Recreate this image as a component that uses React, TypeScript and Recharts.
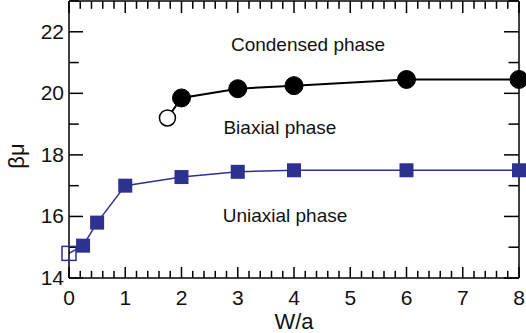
import React from "react";
import {
  LineChart,
  Line,
  XAxis,
  YAxis,
  ReferenceDot,
} from "recharts";

// condensed / biaxial boundary (first point is the open circle)
const biaxialW = [1.75, 2, 3, 4, 6, 8];
const biaxialMu = [19.2, 19.85, 20.15, 20.25, 20.45, 20.45];

// biaxial / uniaxial boundary (first point is the open square)
const uniaxialW = [0, 0.25, 0.5, 1, 2, 3, 4, 6, 8];
const uniaxialMu = [14.8, 15.05, 15.8, 17.0, 17.28, 17.45, 17.5, 17.5, 17.5];

const xMajor = [0, 1, 2, 3, 4, 5, 6, 7, 8];
const yMajor = [14, 16, 18, 20, 22];
const yAll = [14, 15, 16, 17, 18, 19, 20, 21, 22, 23];

const phaseLabels = [
  { text: "Condensed phase", w: 4.25, mu: 21.6 },
  { text: "Biaxial phase", w: 3.75, mu: 18.9 },
  { text: "Uniaxial phase", w: 3.84, mu: 16.05 },
];

const BLUE = "#2d3190";
const FONT = "'Liberation Sans', Arial, sans-serif";

const biaxialData = biaxialW.map((w, i) => ({ w, mu: biaxialMu[i] }));
const uniaxialData = uniaxialW.map((w, i) => ({ w, mu: uniaxialMu[i] }));

// minor ticks every 0.2 on x
const xAll: number[] = [];
xMajor.slice(0, -1).forEach((m) => {
  for (let k = 0; k < 5; k++) xAll.push(Math.round((m + k * 0.2) * 10) / 10);
});
xAll.push(xMajor[xMajor.length - 1]);

const xMin = xMajor[0];
const xMax = xMajor[xMajor.length - 1];
const yMin = yAll[0];
const yMax = yAll[yAll.length - 1];

// inward tick marks along the four sides of the frame
const bottomMarks = xAll.map((w) => ({ w, mu: yMin, major: xMajor.includes(w) }));
const topMarks = xAll.map((w) => ({ w, mu: yMax, major: xMajor.includes(w) }));
const leftMarks = yAll.map((mu) => ({ w: xMin, mu, major: yMajor.includes(mu) }));
const rightMarks = yAll.map((mu) => ({ w: xMax, mu, major: yMajor.includes(mu) }));

// dx/dy: direction and length of a major mark; minor marks are shorter
const markDot = (dx: number, dy: number, minorScale: number) => (p: any) => {
  const { cx, cy, index, payload } = p;
  const s = payload?.major ? 1 : minorScale;
  const lx = dx * s;
  const ly = dy * s;
  const x = dx === 0 ? cx - 0.75 : Math.min(cx, cx + lx);
  const y = dy === 0 ? cy - 0.75 : Math.min(cy, cy + ly);
  const w = dx === 0 ? 1.5 : Math.abs(lx);
  const h = dy === 0 ? 1.5 : Math.abs(ly);
  return <rect key={index} x={x} y={y} width={w} height={h} fill="#000" />;
};

const BottomTick = (props: any) => {
  const { x, y, payload } = props;
  const v = payload.value;
  if (!xMajor.includes(v)) return <g />;
  return (
    <text x={x} y={y + 27} textAnchor="middle" fontSize={21} fontFamily={FONT} fill="#111">
      {v}
    </text>
  );
};

const LeftTick = (props: any) => {
  const { x, y, payload } = props;
  const v = payload.value;
  if (!yMajor.includes(v)) return <g />;
  return (
    <text x={x - 5} y={y + 7} textAnchor="end" fontSize={21} fontFamily={FONT} fill="#111">
      {v}
    </text>
  );
};

const circleDot = (props: any) => {
  const { cx, cy, index } = props;
  if (index === 0) {
    return <circle key={index} cx={cx} cy={cy} r={8} fill="#fff" stroke="#000" strokeWidth={1.5} />;
  }
  return <circle key={index} cx={cx} cy={cy} r={9} fill="#000" stroke="#000" />;
};

const squareDot = (props: any) => {
  const { cx, cy, index } = props;
  if (index === 0) {
    return (
      <rect key={index} x={cx - 7} y={cy - 7} width={14} height={14} fill="none" stroke={BLUE} strokeWidth={1.5} />
    );
  }
  return <rect key={index} x={cx - 7} y={cy - 7} width={14} height={14} fill={BLUE} />;
};

export default function App() {
  return (
    <div style={{ position: "absolute", left: 0, top: 0 }}>
      <LineChart
        width={526}
        height={333}
        margin={{ top: 0, right: 6, left: 0, bottom: 0 }}
      >
        <XAxis
          dataKey="w"
          type="number"
          domain={[xMin, xMax]}
          ticks={xAll}
          interval={0}
          tick={<BottomTick />}
          tickLine={false}
          tickSize={0}
          tickMargin={0}
          height={55}
          axisLine={{ stroke: "#000", strokeWidth: 1.5 }}
          label={{
            value: "W/a",
            position: "insideBottom",
            offset: 4,
            fontSize: 22,
            fontFamily: FONT,
            fill: "#111",
          }}
        />
        <XAxis
          xAxisId="top"
          orientation="top"
          dataKey="w"
          type="number"
          domain={[xMin, xMax]}
          tick={false}
          tickLine={false}
          height={1}
          axisLine={{ stroke: "#000", strokeWidth: 1.5 }}
        />
        <YAxis
          type="number"
          domain={[yMin, yMax]}
          ticks={yAll}
          interval={0}
          tick={<LeftTick />}
          tickLine={false}
          tickSize={0}
          tickMargin={0}
          width={69}
          axisLine={{ stroke: "#000", strokeWidth: 1.5 }}
          label={{
            content: (p: any) => (
              <text
                x={0}
                y={0}
                transform={`translate(${(p.viewBox?.x ?? 0) + 24}, 156) rotate(-90)`}
                textAnchor="middle"
                fontSize={22}
                fontFamily={FONT}
                fill="#111"
              >
                βμ
              </text>
            ),
          }}
        />
        <YAxis
          yAxisId="right"
          orientation="right"
          type="number"
          domain={[yMin, yMax]}
          tick={false}
          tickLine={false}
          width={1}
          axisLine={{ stroke: "#000", strokeWidth: 1.5 }}
        />
        {/* invisible series so the top and right frame lines are drawn */}
        <Line
          data={uniaxialData}
          dataKey="mu"
          xAxisId="top"
          yAxisId="right"
          stroke="none"
          dot={false}
          legendType="none"
          isAnimationActive={false}
        />
        {/* frame tick marks, placed through the chart scales */}
        <Line data={bottomMarks} dataKey="mu" stroke="none" dot={markDot(0, -11, 0.65)} isAnimationActive={false} />
        <Line data={topMarks} dataKey="mu" stroke="none" dot={markDot(0, 12, 0.65)} isAnimationActive={false} />
        <Line data={leftMarks} dataKey="mu" stroke="none" dot={markDot(14, 0, 0.7)} isAnimationActive={false} />
        <Line data={rightMarks} dataKey="mu" stroke="none" dot={markDot(-15, 0, 0.7)} isAnimationActive={false} />
        <Line
          data={uniaxialData}
          dataKey="mu"
          stroke={BLUE}
          strokeWidth={1.5}
          dot={squareDot}
          isAnimationActive={false}
        />
        <Line
          data={biaxialData}
          dataKey="mu"
          stroke="#000"
          strokeWidth={2}
          dot={circleDot}
          isAnimationActive={false}
        />
        {phaseLabels.map((l) => (
          <ReferenceDot
            key={l.text}
            x={l.w}
            y={l.mu}
            r={0}
            shape={(p: any) => (
              <text
                x={p.cx}
                y={p.cy + 7}
                textAnchor="middle"
                fontSize={19}
                fontFamily={FONT}
                fill="#111"
              >
                {l.text}
              </text>
            )}
          />
        ))}
      </LineChart>
    </div>
  );
}
